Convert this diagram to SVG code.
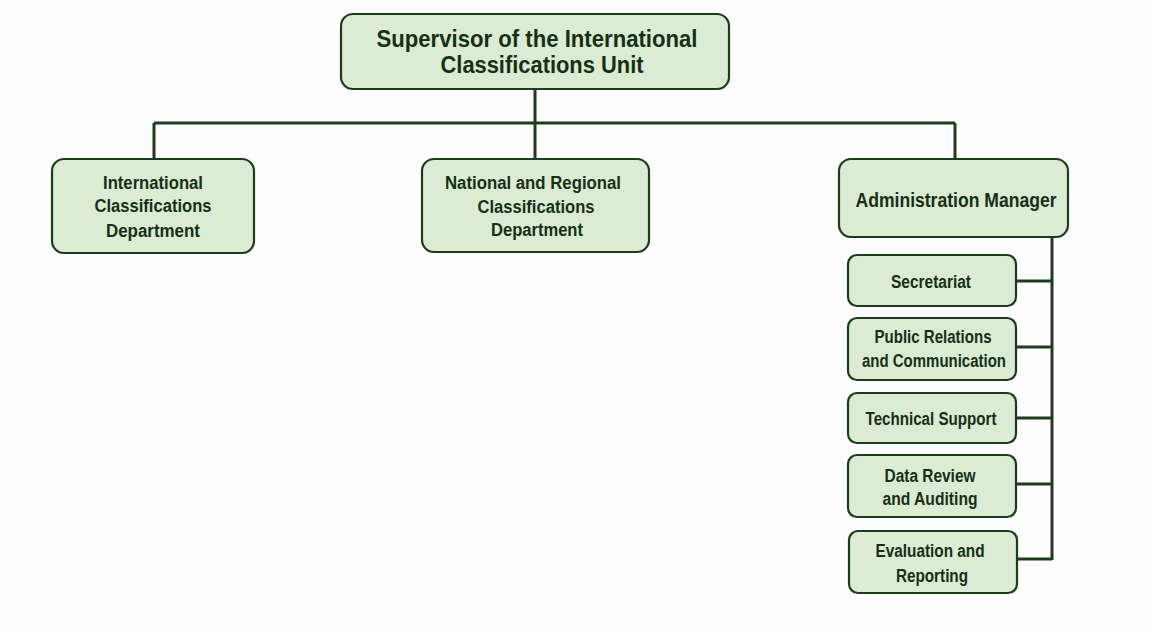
<svg xmlns="http://www.w3.org/2000/svg" width="1150" height="632" viewBox="0 0 1150 632">
<style>
.box{fill:#dcebd3;stroke:#1d3b1d;stroke-width:2.2}
.t{font-family:"Liberation Sans",Arial,sans-serif;font-weight:bold;fill:#153015;text-anchor:middle}
.s17{font-size:18px}
.s19{font-size:20px}
.s23{font-size:23px}
.c{fill:none;stroke:#1d3b1d;stroke-width:3}
</style>
<rect width="1150" height="632" fill="#fdfdfd"/>
<g id="connectors">
<path class="c" d="M535 89V123M154 123H955M154 123V159M535 123V159M955 123V159"/>
<path class="c" d="M1052 237V560M1016 281H1052M1016 347H1052M1016 418H1052M1016 484H1052M1017 559H1052"/>
</g>
<g id="supervisor">
<rect class="box" x="341" y="14" width="388" height="75" rx="12"/>
<text class="t s23" x="537" y="47" textLength="321" lengthAdjust="spacingAndGlyphs">Supervisor of the International</text>
<text class="t s23" x="542" y="73" textLength="203" lengthAdjust="spacingAndGlyphs">Classifications Unit</text>
</g>
<g id="intl-dept">
<rect class="box" x="52" y="159" width="202" height="94" rx="12"/>
<text class="t s17" x="153" y="189" textLength="100" lengthAdjust="spacingAndGlyphs">International</text>
<text class="t s17" x="153" y="212" textLength="117" lengthAdjust="spacingAndGlyphs">Classifications</text>
<text class="t s17" x="153" y="237" textLength="94" lengthAdjust="spacingAndGlyphs">Department</text>
</g>
<g id="national-dept">
<rect class="box" x="422" y="159" width="227" height="93" rx="12"/>
<text class="t s17" x="533" y="189" textLength="176" lengthAdjust="spacingAndGlyphs">National and Regional</text>
<text class="t s17" x="536" y="213" textLength="117" lengthAdjust="spacingAndGlyphs">Classifications</text>
<text class="t s17" x="537" y="236" textLength="92" lengthAdjust="spacingAndGlyphs">Department</text>
</g>
<g id="admin-manager">
<rect class="box" x="839" y="159" width="229" height="78" rx="12"/>
<text class="t s19" x="956" y="207" textLength="201" lengthAdjust="spacingAndGlyphs">Administration Manager</text>
</g>
<g id="secretariat">
<rect class="box" x="848" y="255" width="168" height="51" rx="9"/>
<text class="t s17" x="931" y="288" textLength="80" lengthAdjust="spacingAndGlyphs">Secretariat</text>
</g>
<g id="public-relations">
<rect class="box" x="848" y="318" width="168" height="62" rx="9"/>
<text class="t s17" x="933" y="343" textLength="117" lengthAdjust="spacingAndGlyphs">Public Relations</text>
<text class="t s17" x="934" y="367" textLength="144" lengthAdjust="spacingAndGlyphs">and Communication</text>
</g>
<g id="technical-support">
<rect class="box" x="848" y="393" width="168" height="50" rx="9"/>
<text class="t s17" x="931" y="425" textLength="131" lengthAdjust="spacingAndGlyphs">Technical Support</text>
</g>
<g id="data-review">
<rect class="box" x="848" y="455" width="168" height="62" rx="9"/>
<text class="t s17" x="930" y="482" textLength="91" lengthAdjust="spacingAndGlyphs">Data Review</text>
<text class="t s17" x="930" y="505" textLength="95" lengthAdjust="spacingAndGlyphs">and Auditing</text>
</g>
<g id="evaluation">
<rect class="box" x="849" y="531" width="168" height="62" rx="9"/>
<text class="t s17" x="930" y="557" textLength="109" lengthAdjust="spacingAndGlyphs">Evaluation and</text>
<text class="t s17" x="932" y="582" textLength="72" lengthAdjust="spacingAndGlyphs">Reporting</text>
</g>
</svg>
